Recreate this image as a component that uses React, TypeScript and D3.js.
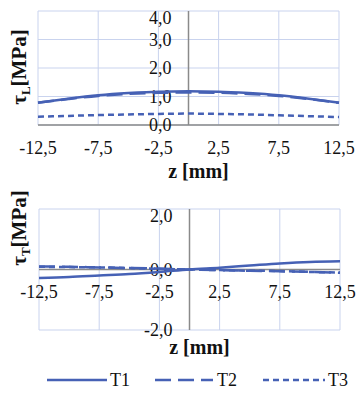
import React from "react";
import * as d3 from "d3";

const zValues = [-12.5, -10, -7.5, -5, -2.5, 0, 2.5, 5, 7.5, 10, 12.5];
const xTicks = [-12.5, -7.5, -2.5, 2.5, 7.5, 12.5];

const tauL_T1 = [0.78, 0.92, 1.04, 1.12, 1.17, 1.18, 1.17, 1.12, 1.04, 0.92, 0.78];
const tauL_T2 = [0.78, 0.91, 1.02, 1.09, 1.13, 1.14, 1.13, 1.09, 1.02, 0.91, 0.78];
const tauL_T3 = [0.29, 0.32, 0.35, 0.37, 0.39, 0.4, 0.39, 0.37, 0.34, 0.31, 0.28];
const tauLTicks = [0, 1, 2, 3, 4];

const tauT_T1 = [-0.28, -0.25, -0.2, -0.15, -0.08, 0, 0.06, 0.13, 0.2, 0.25, 0.27];
const tauT_T2 = [0.1, 0.09, 0.07, 0.05, 0.03, 0, -0.02, -0.04, -0.06, -0.08, -0.11];
const tauT_T3 = [0.09, 0.08, 0.07, 0.05, 0.02, 0, -0.02, -0.04, -0.05, -0.08, -0.1];
const tauTTicks = [-2, 0, 2];

const seriesNames = ["T1", "T2", "T3"];

const LINE = "#4661b5";
const GRID = "#c9d3ee";
const AXIS = "#8a8a8a";
const FONT = "Liberation Serif, DejaVu Serif, Times New Roman, serif";
const dashes = ["none", "16 7", "6 4"];
const txt = { fontFamily: FONT };

const fmt = (v: number) => v.toFixed(1).replace(".", ",");

type PanelProps = {
  left: number; right: number; top: number; bottom: number;
  domain: [number, number]; ticks: number[]; series: number[][];
  xLabelBaseline: number; xTitleBaseline: number; yTitleCenter: number;
  sub: string;
};

function Panel(p: PanelProps) {
  const x = d3.scaleLinear().domain([-12.5, 12.5]).range([p.left, p.right]);
  const y = d3.scaleLinear().domain(p.domain).range([p.bottom, p.top]);
  const line = d3
    .line<number>()
    .x((_, i) => x(zValues[i]))
    .y((d) => y(d))
    .curve(d3.curveMonotoneX);
  const x0 = x(0);
  const y0 = y(0);
  return (
    <g>
      {p.ticks.map((t) => (
        <line key={"h" + t} x1={p.left} x2={p.right} y1={y(t)} y2={y(t)} stroke={GRID} strokeWidth={1} />
      ))}
      {xTicks.map((t) => (
        <line key={"v" + t} x1={x(t)} x2={x(t)} y1={p.top} y2={p.bottom} stroke={GRID} strokeWidth={1} />
      ))}
      <line x1={p.left} x2={p.right} y1={y0} y2={y0} stroke={AXIS} strokeWidth={1.5} />
      <line x1={x0} x2={x0} y1={p.top} y2={p.bottom} stroke={AXIS} strokeWidth={1.5} />
      {p.ticks.map((t) => (
        <text
          key={"yl" + t}
          x={x0 - 17}
          y={Math.max(y(t), p.top + 7)}
          dy="0.35em"
          textAnchor="end"
          style={txt}
          fontSize={18}
          fill="#111"
        >
          {fmt(t)}
        </text>
      ))}
      {xTicks.map((t) => (
        <text
          key={"xl" + t}
          x={x(t)}
          y={p.xLabelBaseline}
          textAnchor="middle"
          style={txt}
          fontSize={18}
          fill="#111"
        >
          {String(t).replace(".", ",")}
        </text>
      ))}
      {p.series.map((s, i) => (
        <path
          key={"s" + i}
          d={line(s) || ""}
          fill="none"
          stroke={LINE}
          strokeWidth={2.5}
          strokeDasharray={dashes[i]}
          strokeLinejoin="round"
        />
      ))}
      <text
        x={(p.left + p.right) / 2 + 10}
        y={p.xTitleBaseline}
        textAnchor="middle"
        style={txt}
        fontSize={20}
        fontWeight="bold"
        fill="#111"
      >
        z [mm]
      </text>
      <text
        transform={`translate(26,${p.yTitleCenter}) rotate(-90)`}
        textAnchor="middle"
        style={txt}
        fontSize={21}
        fontWeight="bold"
        fill="#111"
      >
        τ<tspan fontSize={13} dy={4}>{p.sub}</tspan>
        <tspan dy={-4}>[MPa]</tspan>
      </text>
    </g>
  );
}

export default function App() {
  const legendItems = [
    { x1: 47, x2: 107, tx: 110 },
    { x1: 155, x2: 213, tx: 217 },
    { x1: 263, x2: 325, tx: 328 },
  ];
  return (
    <svg
      width={357}
      height={393}
      style={{ position: "absolute", left: 0, top: 0, background: "#fff" }}
    >
      <rect x={0} y={0} width={357} height={393} fill="#fff" />
      <Panel
        left={38}
        right={339}
        top={11}
        bottom={125}
        domain={[0, 4]}
        ticks={tauLTicks}
        series={[tauL_T1, tauL_T2, tauL_T3]}
        xLabelBaseline={154}
        xTitleBaseline={178}
        yTitleCenter={67}
        sub="L"
      />
      <Panel
        left={39}
        right={340}
        top={209}
        bottom={330}
        domain={[-2, 2]}
        ticks={tauTTicks}
        series={[tauT_T1, tauT_T2, tauT_T3]}
        xLabelBaseline={298}
        xTitleBaseline={354}
        yTitleCenter={228}
        sub="T"
      />
      {legendItems.map((l, i) => (
        <g key={"lg" + i}>
          <line
            x1={l.x1}
            x2={l.x2}
            y1={380}
            y2={380}
            stroke={LINE}
            strokeWidth={2.5}
            strokeDasharray={dashes[i]}
          />
          <text x={l.tx} y={386} style={txt} fontSize={18} fill="#111">
            {seriesNames[i]}
          </text>
        </g>
      ))}
    </svg>
  );
}
